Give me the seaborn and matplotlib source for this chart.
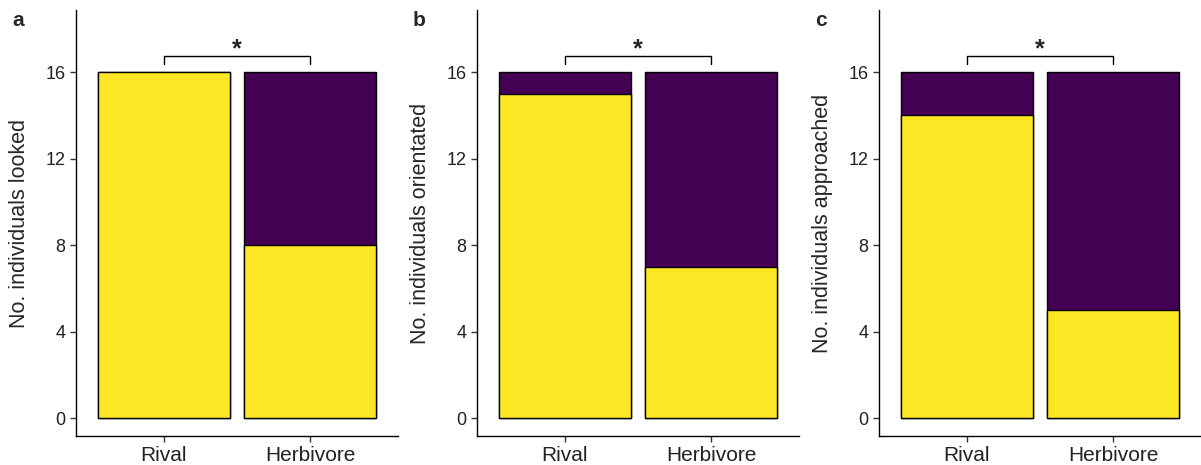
import pandas as pd
import matplotlib.pyplot as plt
import seaborn as sns

# Data
categories = ['Rival', 'Herbivore']
n_total = [16, 16]
looked_yes = [16, 8]
oriented_yes = [15, 7]
approached_yes = [14, 5]

panels = [
    ('a', 'No. individuals looked', looked_yes),
    ('b', 'No. individuals orientated', oriented_yes),
    ('c', 'No. individuals approached', approached_yes),
]

yellow = '#FDE725'
purple = '#440154'

sns.set_style('white')
plt.rcParams['font.family'] = ['Liberation Sans', 'DejaVu Sans']

fig = plt.figure(figsize=(12.01, 4.65), dpi=100)
lefts = [76, 477, 879]

for (tag, ylabel, yes), left in zip(panels, lefts):
    ax = fig.add_axes([left / 1201, 29 / 465, 322 / 1201, 426 / 465])
    df = pd.DataFrame({'group': categories, 'total': n_total, 'yes': yes})

    sns.barplot(data=df, x='group', y='total', color=purple, saturation=1,
                width=0.9, edgecolor='black', linewidth=1, ax=ax)
    sns.barplot(data=df, x='group', y='yes', color=yellow, saturation=1,
                width=0.9, edgecolor='black', linewidth=1, ax=ax)

    # significance bracket
    ax.plot([0, 0, 1, 1], [16.35, 16.75, 16.75, 16.35], color='black', lw=1)
    ax.text(0.5, 16.5, '*', ha='center', va='bottom', fontsize=18,
            fontweight='bold')

    ax.set_xlim(-0.6, 1.6)
    ax.set_ylim(-0.83, 18.87)
    ax.set_yticks([0, 4, 8, 12, 16])
    ax.set_xlabel('')
    ax.set_ylabel(ylabel, fontsize=15.5)
    ax.yaxis.set_label_coords(-0.143, 0.5)
    ax.tick_params(axis='y', labelsize=13, length=4, width=1, left=True,
                   color='#333333', labelcolor='#222222')
    ax.tick_params(axis='x', labelsize=15, length=4, width=1, bottom=True,
                   color='#333333', labelcolor='#222222')
    sns.despine(ax=ax)
    for s in ['left', 'bottom']:
        ax.spines[s].set_color('black')
        ax.spines[s].set_linewidth(1)

    fig.text((left - 64) / 1201, 1 - 21 / 465, tag, fontsize=15,
             fontweight='bold', va='center', ha='left')

plt.savefig('out.png', dpi=100)
